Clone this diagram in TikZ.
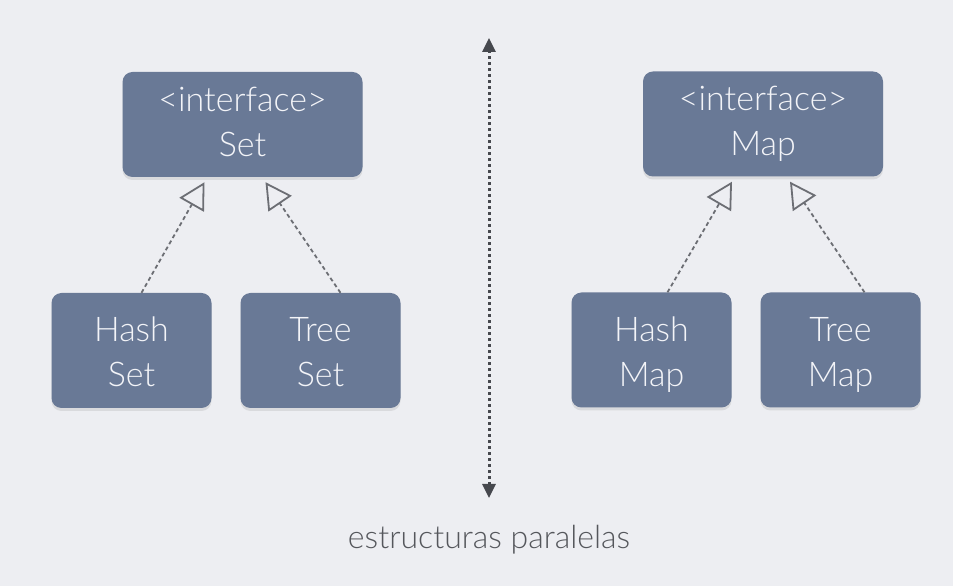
\documentclass[tikz,border=0pt]{standalone}
\usepackage{fontspec}
\setmainfont{Lato}[UprightFont=* Light]
\usepackage{tikz}
\usetikzlibrary{arrows.meta}
\usetikzlibrary{shadows}
\definecolor{bg}{RGB}{237,238,242}
\definecolor{boxfill}{RGB}{105,121,150}
\definecolor{boxtext}{RGB}{243,244,248}
\definecolor{linkgray}{RGB}{108,110,116}
\definecolor{sepgray}{RGB}{70,72,78}
\definecolor{captiongray}{RGB}{85,87,92}
\tikzset{
	box/.style={fill=boxfill,rounded corners=10pt,text=boxtext,align=center,inner sep=0pt,
		font=\fontsize{34}{45}\selectfont,execute at end node=\vphantom{p},
		drop shadow={opacity=0.18,shadow xshift=0pt,shadow yshift=-3pt}},
	ifacebox/.style={box,minimum width=240pt,minimum height=105pt},
	implbox/.style={box,minimum width=160pt,minimum height=115pt,text height=73pt,text depth=0pt},
	realizes/.style={draw=linkgray,line width=1.8pt,dash pattern=on 4pt off 3pt,
		-{Triangle[open,length=26pt,width=28pt,line width=1.8pt]}}
}
\begin{document}
\begin{tikzpicture}[x=1pt,y=1pt]
		\fill[bg] (0,0) rectangle (953,586);
		\useasboundingbox (0,0) rectangle (953,586);
		\node[ifacebox](Set) at (242.5,461.5) {<interface>\\Set};
		\node[implbox](HSet) at (131.5,235.5) {Hash\\Set};
		\node[implbox](TSet) at (320.5,235.5) {Tree\\Set};
		\node[ifacebox](Map) at (763,462) {<interface>\\Map};
		\node[implbox](HMap) at (651.5,236) {Hash\\Map};
		\node[implbox](TMap) at (840.5,236) {Tree\\Map};
		
		\draw[realizes] ([xshift=10pt]HSet.north)--([xshift=-38pt,yshift=-5pt]Set.south);
		\draw[realizes] ([xshift=20pt]TSet.north)--([xshift=23pt,yshift=-5pt]Set.south);
		\draw[realizes] ([xshift=16pt]HMap.north)--([xshift=-31pt,yshift=-5pt]Map.south);
		\draw[realizes] ([xshift=24pt]TMap.north)--([xshift=27pt,yshift=-5pt]Map.south);
		
		\coordinate(Top) at (489,548);
		\coordinate(Bot) at (489,88);
		\draw[sepgray,line width=3pt,dash pattern=on 3pt off 3pt,
			{Triangle[length=14pt,width=13pt]}-{Triangle[length=14pt,width=13pt]}] (Bot)--(Top);
		
		\node[text=captiongray,font=\fontsize{32}{36}\selectfont](Caption) at (489,46) {estructuras paralelas};
	\end{tikzpicture}
\end{document}
